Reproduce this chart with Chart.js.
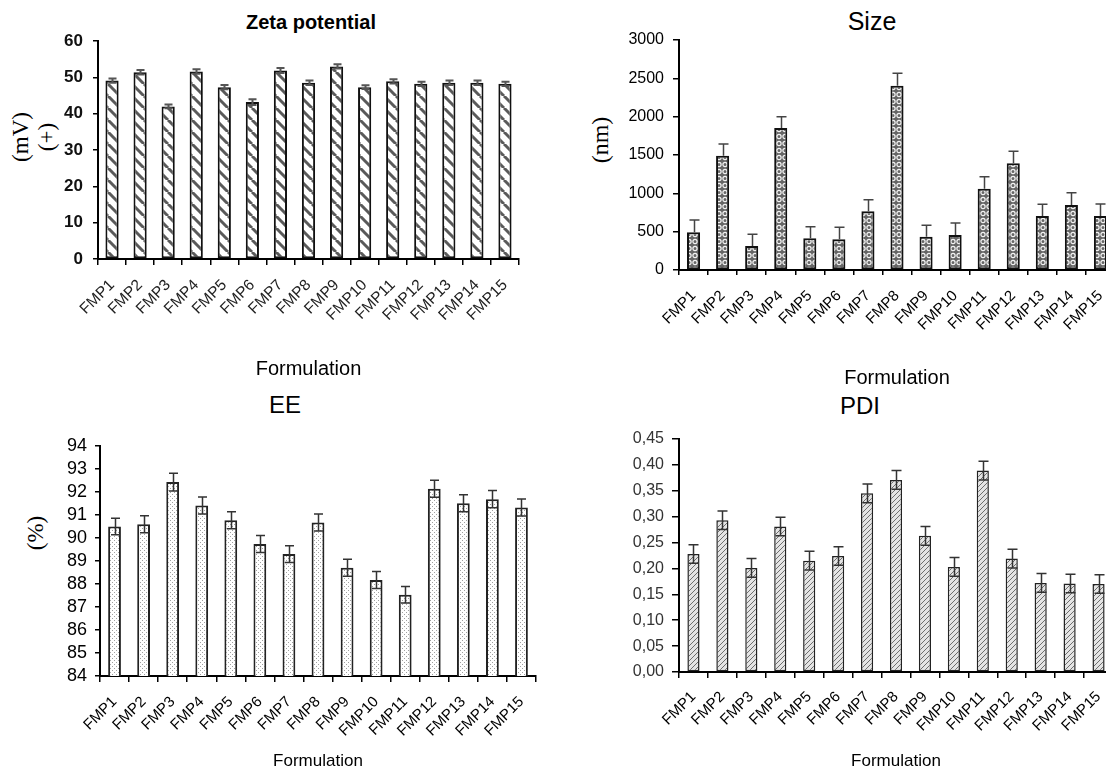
<!DOCTYPE html>
<html>
<head>
<meta charset="utf-8">
<script src="https://cdn.jsdelivr.net/npm/chart.js@4.4.0/dist/chart.umd.min.js"></script>
<style>
  html, body { margin: 0; padding: 0; background: #fff; overflow: hidden; }
  #page { position: relative; width: 1106px; height: 772px; overflow: hidden; }
  canvas { position: absolute; }
  .ttl { position: absolute; transform: translate(-50%, -50%); white-space: nowrap; color: #000;
         font-family: Arial, "Liberation Sans", sans-serif; }
  .ytl { position: absolute; transform: translate(-50%, -50%) rotate(-90deg); white-space: nowrap;
         text-align: center; color: #000; font-family: "Liberation Serif", "DejaVu Serif", serif; }
</style>
</head>
<body>
<div id="page">
  <div class="ttl" style="left:311px;top:22px;font-size:20px;font-weight:bold;">Zeta potential</div>
  <div class="ttl" style="left:872px;top:21px;font-size:25px;">Size</div>
  <div class="ttl" style="left:285px;top:405px;font-size:24px;">EE</div>
  <div class="ttl" style="left:860px;top:406px;font-size:24px;">PDI</div>

  <div class="ytl" style="left:34px;top:137px;font-size:23px;line-height:26px;">(mV)<br>(+)</div>
  <div class="ytl" style="left:600px;top:140px;font-size:24px;">(nm)</div>
  <div class="ytl" style="left:36px;top:533px;font-size:23px;">(%)</div>

  <canvas id="zeta"></canvas>
  <canvas id="size"></canvas>
  <canvas id="ee"></canvas>
  <canvas id="pdi"></canvas>
</div>
<script>
// categories
const formulations = ["FMP1", "FMP2", "FMP3", "FMP4", "FMP5", "FMP6", "FMP7", "FMP8",
  "FMP9", "FMP10", "FMP11", "FMP12", "FMP13", "FMP14", "FMP15"];

// Zeta potential (mV)
const zetaValues = [49.1, 51.4, 42.0, 51.6, 47.3, 43.2, 51.9, 48.5, 53.0, 47.3, 48.9, 48.2, 48.5, 48.5, 48.2];
const zetaErr = [0.6, 0.6, 0.5, 0.6, 0.6, 0.8, 0.7, 0.6, 0.6, 0.5, 0.6, 0.6, 0.6, 0.6, 0.6];
const zetaTicks = [0, 10, 20, 30, 40, 50, 60];

// Size (nm)
const sizeValues = [491, 1491, 313, 1852, 413, 400, 765, 2404, 435, 457, 1061, 1391, 704, 848, 704];
const sizeErr = [160, 152, 152, 148, 152, 156, 152, 161, 148, 156, 156, 157, 153, 161, 157];
const sizeTicks = [0, 500, 1000, 1500, 2000, 2500, 3000];

// EE (%)
const eeValues = [90.50, 90.60, 92.43, 91.41, 90.77, 89.74, 89.30, 90.67, 88.71, 88.17, 87.53, 92.14, 91.51, 91.69, 91.33];
const eeErr = [0.36, 0.37, 0.39, 0.37, 0.37, 0.37, 0.36, 0.37, 0.37, 0.37, 0.36, 0.37, 0.37, 0.37, 0.37];
const eeTicks = [84, 85, 86, 87, 88, 89, 90, 91, 92, 93, 94];

// PDI
const pdiValues = [0.228, 0.293, 0.201, 0.281, 0.215, 0.224, 0.345, 0.371, 0.263, 0.203, 0.389, 0.219, 0.172, 0.171, 0.170];
const pdiErr = [0.018, 0.018, 0.018, 0.018, 0.018, 0.018, 0.018, 0.018, 0.018, 0.018, 0.018, 0.018, 0.018, 0.018, 0.018];
const pdiTicks = [0, 0.05, 0.10, 0.15, 0.20, 0.25, 0.30, 0.35, 0.40, 0.45];

Chart.defaults.font.family = "Arial, 'Liberation Sans', sans-serif";
Chart.defaults.color = "#000";

// small tile patterns for the bar fills
function makePattern(w, h, draw) {
  const c = document.createElement("canvas");
  c.width = w;
  c.height = h;
  const g = c.getContext("2d");
  draw(g, w, h);
  return g.createPattern(c, "repeat");
}

const hatchBack = makePattern(12, 12, (g, w, h) => {
  g.fillStyle = "#fff";
  g.fillRect(0, 0, w, h);
  g.strokeStyle = "#5a5a5a";
  g.lineWidth = 3;
  for (let k = -1; k <= 1; k++) {
    g.beginPath();
    g.moveTo(k * w, 0);
    g.lineTo(k * w + w, h);
    g.stroke();
  }
});

const circles = makePattern(6, 7, (g, w, h) => {
  g.fillStyle = "#666";
  g.fillRect(0, 0, w, h);
  g.strokeStyle = "#f4f4f4";
  g.lineWidth = 1.2;
  g.beginPath();
  g.arc(3, 3.5, 2.1, 0, Math.PI * 2);
  g.stroke();
});

const dots = makePattern(4, 4, (g, w, h) => {
  g.fillStyle = "#fff";
  g.fillRect(0, 0, w, h);
  g.fillStyle = "#a0a0a0";
  g.fillRect(0, 0, 1, 1);
  g.fillRect(2, 2, 1, 1);
});

const hatchFwd = makePattern(5, 5, (g, w, h) => {
  g.fillStyle = "#e4e4e4";
  g.fillRect(0, 0, w, h);
  g.strokeStyle = "#6e6e6e";
  g.lineWidth = 1;
  for (let k = -1; k <= 1; k++) {
    g.beginPath();
    g.moveTo(k * w, h);
    g.lineTo(k * w + w, 0);
    g.stroke();
  }
});

// error bars drawn from the dataset's own errors through the y scale
const errorBars = {
  id: "errorBars",
  afterDatasetsDraw(chart) {
    const ds = chart.data.datasets[0];
    const eb = ds.errorStyle;
    if (!ds.errors || !eb) return;
    const y = chart.scales.y;
    const meta = chart.getDatasetMeta(0);
    const ctx = chart.ctx;
    ctx.save();
    ctx.strokeStyle = eb.color;
    ctx.lineWidth = eb.width;
    meta.data.forEach((bar, i) => {
      const v = ds.data[i];
      const e = ds.errors[i];
      const top = y.getPixelForValue(v + e);
      const bot = eb.upOnly ? y.getPixelForValue(v) : y.getPixelForValue(v - e);
      const x = Math.round(bar.x) + 0.5;
      ctx.beginPath();
      ctx.moveTo(x, top);
      ctx.lineTo(x, bot);
      ctx.moveTo(x - eb.cap, top);
      ctx.lineTo(x + eb.cap, top);
      if (!eb.upOnly) {
        ctx.moveTo(x - eb.cap, bot);
        ctx.lineTo(x + eb.cap, bot);
      }
      ctx.stroke();
    });
    ctx.restore();
  }
};

function panel(p) {
  const cv = document.getElementById(p.id);
  cv.width = p.box.w;
  cv.height = p.box.h;
  cv.style.left = p.box.x + "px";
  cv.style.top = p.box.y + "px";
  cv.style.width = p.box.w + "px";
  cv.style.height = p.box.h + "px";

  const yWidth = p.area.l - p.box.x;
  const xHeight = p.box.y + p.box.h - p.area.b;

  return new Chart(cv, {
    type: "bar",
    data: {
      labels: formulations,
      datasets: [{
        data: p.values,
        errors: p.errors,
        errorStyle: p.errorStyle,
        backgroundColor: p.fill,
        borderColor: p.border,
        borderWidth: p.borderWidth,
        borderSkipped: false,
        barPercentage: p.barPct,
        categoryPercentage: 1
      }]
    },
    options: {
      responsive: false,
      animation: false,
      events: [],
      layout: {
        padding: { left: 0, top: p.area.t - p.box.y, right: p.box.x + p.box.w - p.area.r, bottom: 0 }
      },
      plugins: { legend: { display: false }, tooltip: { enabled: false } },
      scales: {
        x: {
          grid: { display: true, offset: true, drawOnChartArea: false, drawTicks: true,
                  tickLength: p.xTickLen, color: "#000", lineWidth: 1.5 },
          border: { display: true, color: "#000", width: 2 },
          ticks: { autoSkip: false, minRotation: 45, maxRotation: 45, padding: p.xPad,
                   font: p.xFont, color: p.xColor || "#000" },
          title: { display: true, text: "Formulation", font: p.titleFont,
                   padding: { top: 0, bottom: p.titlePad } },
          afterFit(s) {
            s.height = xHeight;
            s.paddingLeft = 0;
            s.paddingRight = 0;
          }
        },
        y: {
          min: p.yTicks[0],
          max: p.yTicks[p.yTicks.length - 1],
          grid: { display: true, drawOnChartArea: false, drawTicks: true,
                  tickLength: p.yTickLen, color: "#000", lineWidth: 1.5 },
          border: { display: true, color: "#000", width: 2 },
          ticks: { autoSkip: false, padding: p.yPad, font: p.yFont, color: p.yColor || "#000",
                   callback: p.yFormat || (v => v) },
          afterBuildTicks(s) {
            s.ticks = p.yTicks.map(v => ({ value: v }));
          },
          afterFit(s) {
            s.width = yWidth;
            s.paddingTop = 0;
            s.paddingBottom = 0;
          }
        }
      }
    },
    plugins: [errorBars]
  });
}

panel({
  id: "zeta",
  box: { x: 0, y: 0, w: 530, h: 390 },
  area: { l: 98, r: 519, t: 41, b: 259 },
  values: zetaValues, errors: zetaErr, yTicks: zetaTicks,
  errorStyle: { color: "#555", width: 2, cap: 4, upOnly: false },
  fill: hatchBack, border: "#111", borderWidth: 2, barPct: 0.47,
  xTickLen: 6, xPad: 11, xFont: { size: 15.5 }, xColor: "#222",
  yTickLen: 5, yPad: 10, yFont: { family: "'Liberation Sans Narrow', Arial, sans-serif", size: 17, weight: "bold" },
  yColor: "#111",
  titleFont: { size: 20 }, titlePad: 9
});

panel({
  id: "size",
  box: { x: 560, y: 0, w: 560, h: 395 },
  area: { l: 679, r: 1115, t: 40, b: 270 },
  values: sizeValues, errors: sizeErr, yTicks: sizeTicks,
  errorStyle: { color: "#444", width: 1.5, cap: 5, upOnly: true },
  fill: circles, border: "#111", borderWidth: 2, barPct: 0.45,
  xTickLen: 5, xPad: 12, xFont: { size: 15 },
  yTickLen: 6, yPad: 9, yFont: { size: 16 },
  titleFont: { size: 20 }, titlePad: 5
});

panel({
  id: "ee",
  box: { x: 0, y: 390, w: 550, h: 382 },
  area: { l: 100, r: 536, t: 446, b: 676 },
  values: eeValues, errors: eeErr, yTicks: eeTicks,
  errorStyle: { color: "#333", width: 1.5, cap: 4.5, upOnly: false },
  fill: dots, border: "#222", borderWidth: 2, barPct: 0.44,
  xTickLen: 6, xPad: 11, xFont: { size: 15 },
  yTickLen: 5, yPad: 8, yFont: { size: 18 },
  titleFont: { size: 17 }, titlePad: 0
});

panel({
  id: "pdi",
  box: { x: 560, y: 390, w: 560, h: 382 },
  area: { l: 679, r: 1113, t: 439, b: 672 },
  values: pdiValues, errors: pdiErr, yTicks: pdiTicks,
  errorStyle: { color: "#333", width: 1.5, cap: 5, upOnly: false },
  fill: hatchFwd, border: "#222", borderWidth: 1.5, barPct: 0.42,
  xTickLen: 6, xPad: 10, xFont: { size: 15 },
  yTickLen: 7, yPad: 8, yFont: { size: 16 }, yColor: "#333",
  yFormat: v => v.toFixed(2).replace(".", ","),
  titleFont: { size: 17 }, titlePad: 0
});
</script>
</body>
</html>
